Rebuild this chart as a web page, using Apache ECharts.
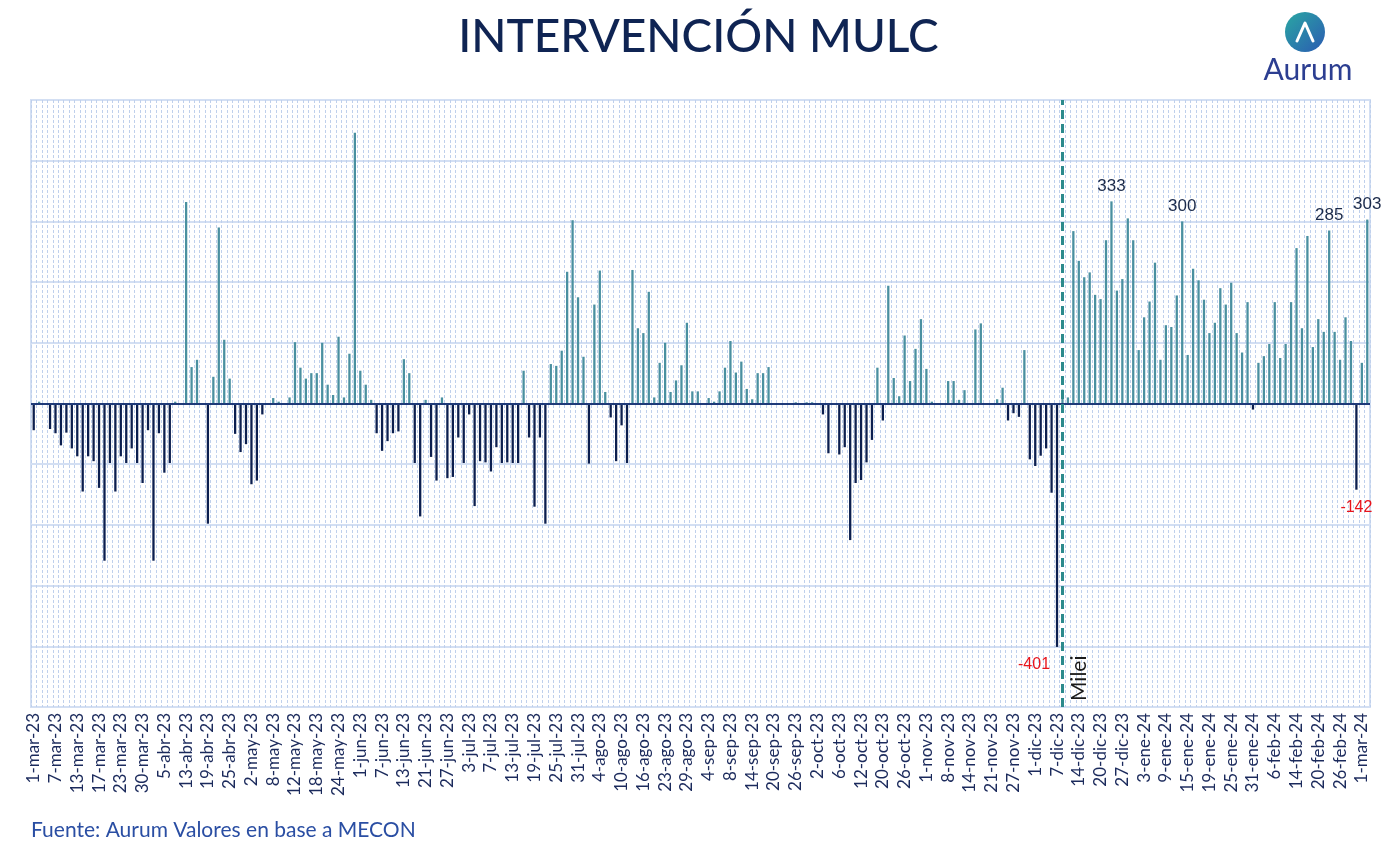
<!DOCTYPE html>
<html>
<head>
<meta charset="utf-8">
<script src="https://cdn.jsdelivr.net/npm/echarts@6/dist/echarts.min.js"></script>
<style>
  html, body { margin: 0; padding: 0; background: #fff; }
  #chart { width: 1397px; height: 855px; }
</style>
</head>
<body>
<div id="chart"></div>
<script>
// días hábiles por mes (mar-23 a mar-24)
const diasHabiles = [
  ['mar-23', [1,2,3,6,7,8,9,10,13,14,15,16,17,20,21,22,23,27,28,29,30,31]],
  ['abr-23', [3,4,5,10,11,12,13,14,17,18,19,20,21,24,25,26,27,28]],
  ['may-23', [2,3,4,5,8,9,10,11,12,15,16,17,18,19,22,23,24,29,30,31]],
  ['jun-23', [1,2,5,6,7,8,9,12,13,14,15,16,21,22,23,26,27,28,29,30]],
  ['jul-23', [3,4,5,6,7,10,11,12,13,14,17,18,19,20,21,24,25,26,27,28,31]],
  ['ago-23', [1,2,3,4,7,8,9,10,11,14,15,16,17,18,22,23,24,25,28,29,30,31]],
  ['sep-23', [1,4,5,6,7,8,11,12,13,14,15,18,19,20,21,22,25,26,27,28,29]],
  ['oct-23', [2,3,4,5,6,9,10,11,12,17,18,19,20,23,24,25,26,27,30,31]],
  ['nov-23', [1,2,3,7,8,9,10,13,14,15,16,17,21,22,23,24,27,28,29,30]],
  ['dic-23', [1,4,5,6,7,11,12,13,14,15,18,19,20,21,22,26,27,28,29]],
  ['ene-24', [2,3,4,5,8,9,10,11,12,15,16,17,18,19,22,23,24,25,26,29,30,31]],
  ['feb-24', [1,2,5,6,7,8,9,14,15,16,19,20,21,22,23,26,27,28,29]],
  ['mar-24', [1,4]],
];
const fechas = diasHabiles.flatMap(([mes, dias]) => dias.map((d) => `${d}-${mes}`));

// compras (+) / ventas (-) del BCRA en el MULC, USD millones
const intervencion = [
  -44, 3, 0, -42, -49, -69, -48, -74, -87, -145, -87, -95, -139, -259, -98, -145, -87, -98, -74, -98, -131, -44,
  -259, -49, -114, -98, 3, 0, 332, 60, 72, 0, -198, 44, 290, 105, 41, -50, -80, -67,
  -133, -127, -18, 0, 9, 3, 0, 10, 101, 59, 41, 50, 50, 100, 31, 14, 110, 10, 82, 446,
  54, 31, 6, -49, -78, -62, -49, -46, 73, 50, -98, -186, 6, -88, -127, 10, -123, -121, -56, -98,
  -18, -169, -95, -97, -112, -72, -98, -97, -98, -98, 54, -56, -170, -56, -198, 65, 62, 87, 217, 302, 175,
  77, -99, 163, 219, 19, -23, -95, -36, -98, 220, 124, 116, 184, 10, 67, 100, 19, 38, 63, 133, 20, 20,
  0, 9, 3, 20, 59, 103, 51, 69, 24, 7, 50, 50, 60, 0, 0, 0, 0, 2, 0, 2, 2,
  0, -18, -82, 0, -84, -72, -225, -131, -126, -97, -60, 59, -28, 194, 42, 12, 112, 37, 90, 139,
  57, 3, 0, 0, 37, 37, 6, 22, 0, 122, 132, 0, 0, 7, 26, -28, -16, -22, 88, -92,
  -103, -86, -74, -147, -401, 23, 10, 284, 235, 208, 216, 179, 172, 269, 333, 186, 205, 305, 269,
  88, 142, 168, 232, 72, 129, 126, 178, 300, 80, 222, 203, 171, 116, 133, 190, 163, 199, 116, 84, 167, -10,
  67, 78, 98, 167, 75, 98, 167, 256, 124, 276, 93, 139, 118, 285, 118, 72, 142, 103, -142,
  67, 303,
];

const destacados = ['22-dic-23', '12-ene-24', '22-feb-24', '4-mar-24'];
const destacadosNeg = ['7-dic-23', '29-feb-24'];
const fechaMilei = '11-dic-23';

const colorCompra = '#4a90a0';
const colorVenta = '#0c1f4f';
const azulOscuro = '#0f2453';

const chart = echarts.init(document.getElementById('chart'));

const seriesData = intervencion.map((v, i) => {
  const item = { value: v, itemStyle: { color: v >= 0 ? colorCompra : colorVenta } };
  if (destacados.includes(fechas[i])) {
    item.label = { show: true, position: 'top', color: '#1b2a4a', fontSize: 17, distance: 7 };
  }
  if (destacadosNeg.includes(fechas[i])) {
    item.label = {
      show: true, position: 'bottom', color: '#e8141c', fontSize: 16, distance: 10,
      offset: fechas[i] === '7-dic-23' ? [-23, 0] : [0, 0],
    };
  }
  return item;
});

chart.setOption({
  animation: false,
  title: [
    {
      text: 'INTERVENCIÓN MULC',
      left: 'center',
      top: 9,
      textStyle: { fontFamily: 'Lato', fontSize: 46, fontWeight: 500, color: azulOscuro },
    },
    {
      text: 'Fuente: Aurum Valores en base a MECON',
      left: 26,
      top: 815,
      textStyle: { fontFamily: 'Lato', fontSize: 21, fontWeight: 'normal', color: '#2a4ea3' },
    },
  ],
  graphic: [
    {
      type: 'circle',
      shape: { cx: 1305, cy: 32, r: 20 },
      style: {
        fill: new echarts.graphic.LinearGradient(0, 0, 1, 1, [
          { offset: 0, color: '#2aa7a3' },
          { offset: 1, color: '#2b5bb2' },
        ]),
      },
    },
    {
      type: 'polyline',
      shape: { points: [[1297, 41], [1305, 23], [1313, 41]] },
      style: { stroke: '#fff', lineWidth: 3, fill: null, lineJoin: 'round', lineCap: 'round' },
    },
    {
      type: 'text',
      x: 1308,
      y: 70,
      style: {
        text: 'Aurum', fontFamily: 'Lato', fontSize: 30, fill: '#2c3e91',
        align: 'center', verticalAlign: 'middle',
      },
    },
  ],
  grid: {
    left: 31, right: 27, top: 100, bottom: 148,
    show: true, borderColor: '#d3dff3', borderWidth: 2,
  },
  xAxis: {
    type: 'category',
    data: fechas,
    axisLine: { show: false, onZero: false },
    axisTick: { show: false },
    axisLabel: {
      interval: 3, rotate: 90, fontFamily: 'Lato', fontSize: 17, color: '#1b2a5c', margin: 6,
    },
    splitLine: {
      show: true, interval: 0,
      lineStyle: { color: '#bfd0ec', type: [3, 2], width: 1 },
    },
  },
  yAxis: {
    type: 'value',
    min: -500, max: 500, interval: 100,
    axisLabel: { show: false },
    axisLine: { show: false },
    axisTick: { show: false },
    splitLine: { lineStyle: { color: '#d3dff3', width: 2 } },
  },
  series: [
    {
      type: 'bar',
      data: seriesData,
      barWidth: '42%',
      markLine: {
        silent: true,
        symbol: 'none',
        data: [
          {
            yAxis: 0,
            lineStyle: { color: '#1f3a78', width: 2, type: 'solid' },
            label: { show: false },
          },
          {
            xAxis: fechaMilei,
            lineStyle: { color: '#2c8a8c', width: 3, type: [9, 5] },
            label: {
              show: true, formatter: 'Milei', position: 'insideStartBottom',
              fontFamily: 'Lato', fontSize: 21, color: '#1b1b1b', distance: 6,
            },
          },
        ],
      },
    },
  ],
});
</script>
</body>
</html>
